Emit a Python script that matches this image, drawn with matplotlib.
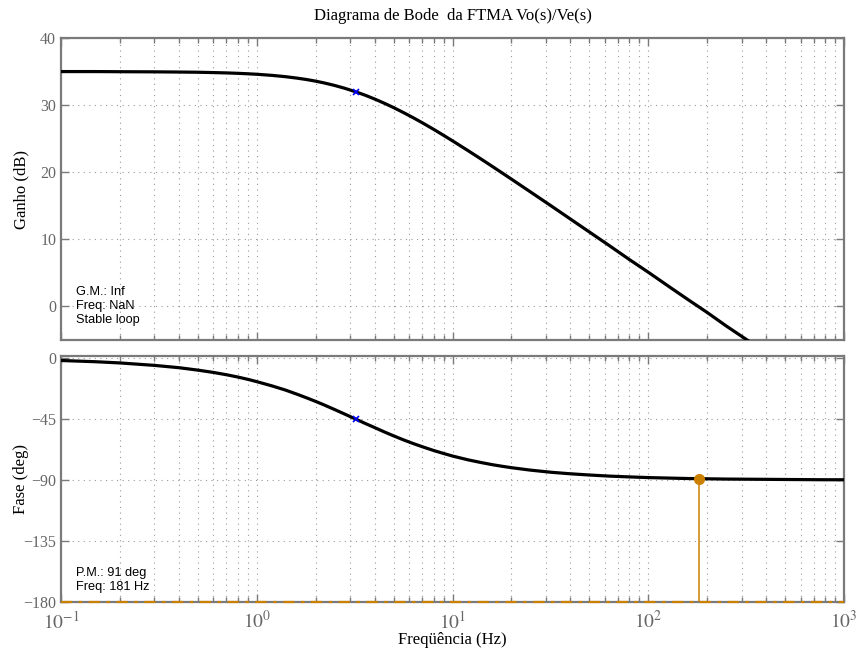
import matplotlib
matplotlib.use("Agg")
import matplotlib.pyplot as plt
import numpy as np
from matplotlib.ticker import LogLocator, NullFormatter, FixedLocator

# ---- data ----
freq_hz = [0.1, 0.15, 0.2, 0.3, 0.4, 0.5, 0.6, 0.7, 0.8, 0.9, 1.0, 1.2, 1.4, 1.6,
           1.8, 2.0, 2.2, 2.5, 2.8, 3.2, 3.6, 4.0, 4.5, 5.0, 5.6, 6.3, 7.0, 8.0,
           9.0, 10, 12, 14, 16, 18, 20, 25, 32, 40, 50, 63, 80, 100, 130, 160,
           200, 250, 320, 400, 500, 630, 800, 1000]
gain_db = [35.0, 35.0, 34.98, 34.96, 34.93, 34.9, 34.85, 34.8, 34.74, 34.67, 34.6,
           34.43, 34.24, 34.03, 33.81, 33.57, 33.32, 32.93, 32.53, 31.99, 31.45,
           30.91, 30.26, 29.63, 28.91, 28.12, 27.38, 26.4, 25.5, 24.68, 23.22,
           21.96, 20.85, 19.86, 18.97, 17.07, 14.96, 13.03, 11.1, 9.1, 7.0, 5.1,
           2.8, 1.0, -0.9, -2.9, -5.0, -6.9, -8.9, -10.9, -12.9, -14.9]
phase_deg = [-1.8, -2.7, -3.6, -5.4, -7.1, -8.9, -10.6, -12.3, -14.0, -15.7, -17.4,
             -20.6, -23.6, -26.6, -29.4, -32.0, -34.5, -38.0, -41.2, -45.0, -48.4,
             -51.3, -54.6, -57.4, -60.3, -63.1, -65.4, -68.2, -70.4, -72.3, -75.1,
             -77.1, -78.7, -79.9, -80.9, -82.7, -84.3, -85.4, -86.3, -87.1, -87.7,
             -88.2, -88.6, -88.9, -89.1, -89.3, -89.4, -89.5, -89.6, -89.7, -89.8,
             -89.8]
corner_freq = 3.2
corner_gain = 32.0
corner_phase = -45.0
pm_freq = 181
pm_phase = -89.0
gain_ticks = [0, 10, 20, 30, 40]
phase_ticks = [-180, -135, -90, -45, 0]
phase_tick_labels = ['\u2212180', '\u2212135', '\u221290', '\u221245', '0']
x_ticks = [0.1, 1, 10, 100, 1000]
x_tick_labels = [r'$10^{-1}$', r'$10^{0}$', r'$10^{1}$', r'$10^{2}$', r'$10^{3}$']

plt.rcParams['mathtext.fontset'] = 'stix'
serif = 'Liberation Serif'
sans = 'Liberation Sans'
grey = '#7a7a7a'
tick_grey = '#666666'
orange = '#cc8000'

fig = plt.figure(figsize=(8.56, 6.51), dpi=100)
ax1 = fig.add_axes([0.0713, 0.4777, 0.9147, 0.4639])
ax2 = fig.add_axes([0.0713, 0.0753, 0.9147, 0.3778])

for ax in (ax1, ax2):
    ax.set_xscale('log')
    ax.set_xlim(0.1, 1000)
    ax.xaxis.set_major_locator(FixedLocator(x_ticks))
    ax.xaxis.set_minor_locator(LogLocator(base=10, subs=np.arange(2, 10), numticks=20))
    ax.xaxis.set_minor_formatter(NullFormatter())
    ax.grid(True, which='major', axis='both', color='#999999', linestyle=(0, (1, 4)), linewidth=0.8)
    ax.grid(True, which='minor', axis='x', color='#999999', linestyle=(0, (1, 4)), linewidth=0.8)
    for s in ax.spines.values():
        s.set_color(grey)
        s.set_linewidth(1.6)
    ax.tick_params(which='both', direction='in', top=True, right=True, colors=grey,
                   labelcolor=tick_grey, width=1.0)
    ax.tick_params(axis='y', labelsize=11.5)
    ax.tick_params(axis='x', labelsize=14, pad=6)
    ax.tick_params(which='major', length=6)
    ax.tick_params(which='minor', length=3.5)

# gain
ax1.plot(freq_hz, gain_db, color='black', linewidth=2.3, zorder=3)
ax1.plot([corner_freq], [corner_gain], marker='x', color='blue', markersize=5, mew=1.2, zorder=4)
ax1.set_ylim(-5, 40)
ax1.set_yticks(gain_ticks)
ax1.set_yticklabels([str(v) for v in gain_ticks], family=serif)
ax1.set_xticklabels([])
ax1.set_ylabel('Ganho (dB)', family=serif, fontsize=12)
ax1.yaxis.set_label_coords(-0.041, 0.5)
ax1.set_title('Diagrama de Bode  da FTMA Vo(s)/Ve(s)', family=serif, fontsize=12, pad=13)
ax1.text(0.019, 0.113, 'G.M.: Inf\nFreq: NaN\nStable loop', transform=ax1.transAxes,
         family=sans, fontsize=9.2, va='center', ha='left', linespacing=1.2)

# phase
ax2.axhline(-180, color=orange, linestyle=(0, (5, 3, 1.5, 3)), linewidth=1.6, zorder=3,
            clip_on=False)
ax2.vlines(pm_freq, -180, pm_phase, color=orange, linewidth=1.1, zorder=3)
ax2.plot(freq_hz, phase_deg, color='black', linewidth=2.3, zorder=3)
ax2.plot([pm_freq], [pm_phase], marker='o', color=orange, markersize=7, zorder=5)
ax2.plot([corner_freq], [corner_phase], marker='x', color='blue', markersize=5, mew=1.2, zorder=4)
ax2.set_ylim(-180, 1.5)
ax2.set_yticks(phase_ticks)
ax2.set_yticklabels(phase_tick_labels, family=serif)
ax2.set_xticklabels(x_tick_labels)
ax2.set_ylabel('Fase (deg)', family=serif, fontsize=12)
ax2.yaxis.set_label_coords(-0.041, 0.5)
ax2.set_xlabel('Freqüência (Hz)', family=serif, fontsize=12)
ax2.xaxis.set_label_coords(0.5, -0.124)
ax2.text(0.019, 0.088, 'P.M.: 91 deg\nFreq: 181 Hz', transform=ax2.transAxes,
         family=sans, fontsize=9.2, va='center', ha='left', linespacing=1.2)

fig.savefig('out.png', dpi=100)
